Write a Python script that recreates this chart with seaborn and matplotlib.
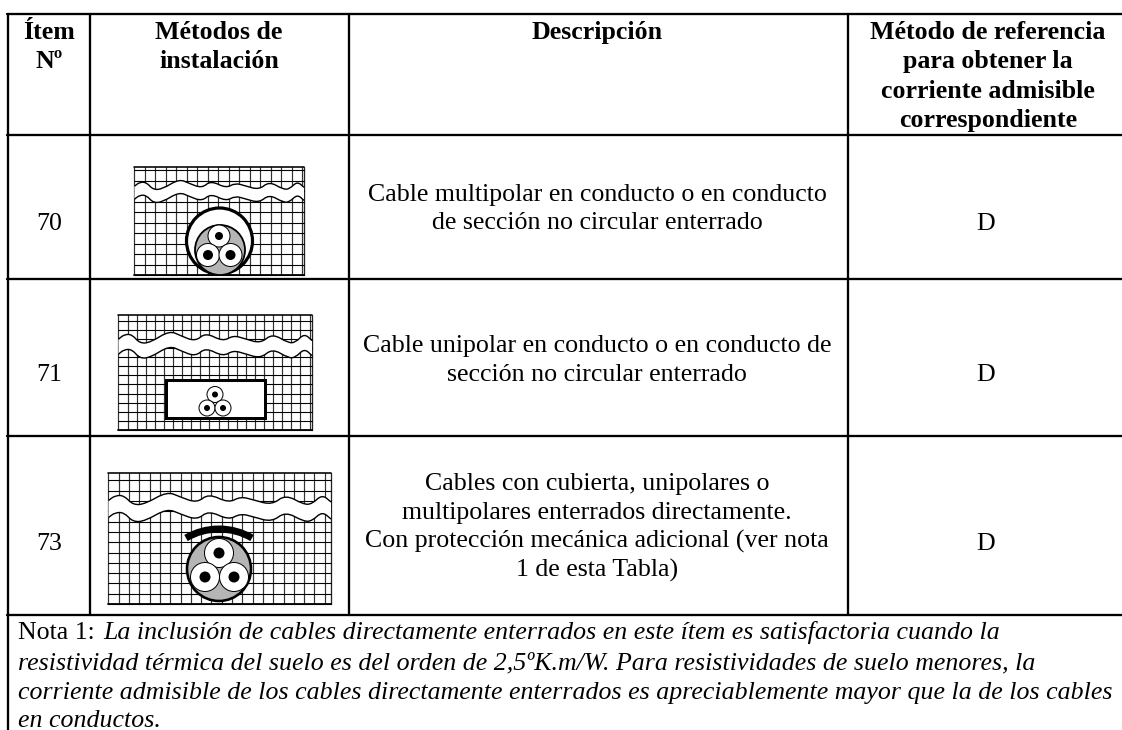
import matplotlib
matplotlib.use("Agg")
import matplotlib.pyplot as plt
import matplotlib.patches as mpatches
from matplotlib.path import Path
import numpy as np
import pandas as pd
import seaborn as sns

# Table content
HEADERS = [
    ["Ítem", "Nº"],
    ["Métodos de", "instalación"],
    ["Descripción"],
    ["Método de referencia", "para obtener la", "corriente admisible", "correspondiente"],
]
ITEMS = ["70", "71", "73"]
REFERENCE = ["D", "D", "D"]
DESCRIPTIONS = [
    ["Cable multipolar en conducto o en conducto", "de sección no circular enterrado"],
    ["Cable unipolar en conducto o en conducto de", "sección no circular enterrado"],
    [
        "Cables con cubierta, unipolares o",
        "multipolares enterrados directamente.",
        "Con protección mecánica adicional (ver nota",
        "1 de esta Tabla)",
    ],
]
NOTE_LABEL = "Nota 1: "
NOTE_LINES = [
    "La inclusión de cables directamente enterrados en este ítem es satisfactoria cuando la",
    "resistividad térmica del suelo es del orden de 2,5ºK.m/W. Para resistividades de suelo menores, la",
    "corriente admisible de los cables directamente enterrados es apreciablemente mayor que la de los cables",
    "en conductos.",
]

# Shape of the ground break line
WAVE_X = [0, .03, .07, .11, .165, .263, .323, .398, .45, .54, .593, .653, .735, .795, .877, .915, .96, 1]
WAVE_Y = [6.5, 1.5, 1.5, 11, 10, -2.5, 3, 9, -.5, 9, 2.5, 6, 11, .5, 10.5, 10, .5, 8]

sns.set_theme(style="white")
plt.rcParams["font.family"] = ["Liberation Serif", "DejaVu Serif"]

BODY_SIZE = 18.6
HEAD_SIZE = 18.6
COL_X = [8.5, 90, 349, 848, 1122]
ROW_Y = [14, 135, 279, 436, 615]


def px(w):
    return w * 0.72


def draw_rules(ax):
    rows = []
    for i, y in enumerate(ROW_Y):
        rows += [(f"h{i}", 7.5, y), (f"h{i}", 1122, y)]
    for i, x in enumerate(COL_X[:-1]):
        bottom = 730 if i == 0 else ROW_Y[-1]
        rows += [(f"v{i}", x, 14), (f"v{i}", x, bottom)]
    rules = pd.DataFrame(rows, columns=["rule", "x", "y"])
    sns.lineplot(
        data=rules, x="x", y="y", units="rule", estimator=None, sort=False,
        color="black", linewidth=px(2.3), ax=ax, legend=False, zorder=5,
    )


def wave_path(x0, x1, y0, amp):
    xs = x0 + np.array(WAVE_X) * (x1 - x0)
    ys = y0 + np.array(WAVE_Y) * amp
    pts = np.column_stack([xs, ys])
    mids = (pts[:-1] + pts[1:]) / 2
    verts = [pts[0], mids[0]]
    codes = [Path.MOVETO, Path.LINETO]
    for p, m in zip(pts[1:-1], mids[1:]):
        verts += [p, m]
        codes += [Path.CURVE3, Path.CURVE3]
    verts.append(pts[-1])
    codes.append(Path.LINETO)
    return np.array(verts), codes


def draw_ground(ax, x0, x1, y0, y1, step, wave_y, gap, amp=1.0):
    # soil hatch
    for x in np.arange(x0, x1 + 0.1, step):
        ax.plot([x, x], [y0, y1], color="#333333", lw=px(1.2), zorder=1)
    ax.plot([x1, x1], [y0, y1], color="#222222", lw=px(1.3), zorder=1)
    for y in np.arange(y1, y0 - 0.1, -step):
        ax.plot([x0, x1], [y, y], color="black", lw=px(1.1), zorder=1)
    ax.plot([x0, x1], [y0, y0], color="black", lw=px(1.6), zorder=1)
    ax.plot([x0, x1], [y1, y1], color="black", lw=px(1.8), zorder=1)
    # white break between the two wavy lines
    v_top, c_top = wave_path(x0, x1, wave_y, amp)
    v_low, c_low = wave_path(x0, x1, wave_y + gap, amp)
    top_poly = Path(v_top, c_top).to_polygons(closed_only=False)[0]
    low_poly = Path(v_low, c_low).to_polygons(closed_only=False)[0]
    ax.fill(
        np.r_[top_poly[:, 0], low_poly[::-1, 0]],
        np.r_[top_poly[:, 1], low_poly[::-1, 1]],
        color="white", zorder=2, lw=0,
    )
    for v, c in ((v_top, c_top), (v_low, c_low)):
        ax.add_patch(mpatches.PathPatch(Path(v, c), fill=False, ec="black", lw=px(1.4), zorder=3))


def draw_conductors(ax, centers, r, dot):
    for (cx, cy), rad, d in zip(centers, r, dot):
        ax.add_patch(mpatches.Circle((cx, cy), rad, fc="white", ec="black", lw=px(1), zorder=7))
        ax.add_patch(mpatches.Circle((cx, cy), d, fc="black", ec="none", zorder=8))


fig = plt.figure(figsize=(11.22, 7.3), dpi=100)
ax = fig.add_axes([0, 0, 1, 1])
draw_rules(ax)

# header
col_mid = [49, 219, 597, 988]
for lines, xc in zip(HEADERS, col_mid):
    for line, base in zip(lines, [39, 68, 98, 127]):
        ax.text(xc, base, line, ha="center", va="baseline", fontsize=HEAD_SIZE, fontweight="bold", color="black")

# rows
item_base = [230, 381, 550]
desc_base = [[200.5, 229], [352, 381], [490, 519, 548, 577]]
for item, ref, desc, base, dbase in zip(ITEMS, REFERENCE, DESCRIPTIONS, item_base, desc_base):
    ax.text(49, base, item, ha="center", va="baseline", fontsize=BODY_SIZE, color="black")
    ax.text(986, base, ref, ha="center", va="baseline", fontsize=BODY_SIZE, color="black")
    for line, b in zip(desc, dbase):
        ax.text(597, b, line, ha="center", va="baseline", fontsize=BODY_SIZE, color="black")

# note
note_base = [639, 669, 699, 727]
ax.text(18, note_base[0], NOTE_LABEL, ha="left", va="baseline", fontsize=BODY_SIZE, color="black")
for i, (line, b) in enumerate(zip(NOTE_LINES, note_base)):
    ax.text(103 if i == 0 else 18, b, line, ha="left", va="baseline", fontsize=BODY_SIZE, style="italic", color="black")

# item 70 drawing
draw_ground(ax, 134.5, 304, 167, 275, 10.5, 181, 13, 0.8)
ax.add_patch(mpatches.Circle((219.5, 241), 33, fc="white", ec="black", lw=px(3.2), zorder=5))
ax.add_patch(mpatches.Circle((220, 250), 25, fc="#b5b5b5", ec="black", lw=px(1.8), zorder=6))
draw_conductors(ax, [(219, 236), (208, 255), (230.5, 255)], [11, 11.5, 11.5], [4, 5, 5])

# item 71 drawing
draw_ground(ax, 118.5, 312, 315, 430, 9.1, 333, 15, 0.95)
ax.add_patch(mpatches.Rectangle((166, 380), 99, 38, fc="white", ec="black", lw=px(3), zorder=5))
draw_conductors(ax, [(215, 394.5), (207, 408), (223, 408)], [8, 8, 8], [3, 3, 3])

# item 73 drawing
draw_ground(ax, 108.5, 331, 473, 604, 10.3, 494, 17, 1.0)
ax.add_patch(mpatches.Circle((219, 569), 32, fc="#b5b5b5", ec="black", lw=px(2.6), zorder=5))
draw_conductors(ax, [(219, 553), (205, 577), (234, 577)], [14.5, 14.5, 14.5], [5.5, 5.5, 5.5])
ax.add_patch(mpatches.Arc((219, 594), 130, 130, theta1=239.5, theta2=300.5, ec="black", lw=px(7), zorder=6))

ax.set_xlim(0, 1122)
ax.set_ylim(730, 0)
ax.set_axis_off()
fig.savefig("out.png", dpi=100)
